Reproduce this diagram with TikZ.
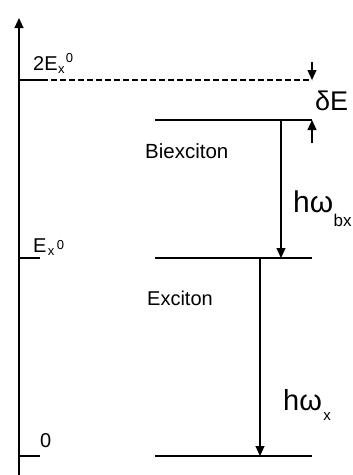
\documentclass[tikz,border=0pt]{standalone}
\usepackage{fontspec}
\setmainfont{Liberation Sans}
\usetikzlibrary{arrows.meta}
\begin{document}
\begin{tikzpicture}[x=1pt,y=-1pt,
  lvl/.style={line width=1.1pt},
  arr/.style={line width=1.1pt,-{Triangle[length=10pt,width=9pt]}},
  txt/.style={inner sep=0pt,anchor=base west,font=\fontsize{#1}{#1}\selectfont},
  txt/.default=20]
\useasboundingbox (0,0) rectangle (353,475);
% axis
\coordinate (ax0) at (19,475);
\coordinate (ax1) at (19,18);
\draw[arr] (ax0) -- (ax1);
% 2Ex0 dashed level
\coordinate (d0) at (19,80);
\coordinate (d1) at (42,80);
\coordinate (d2) at (312,80);
\draw[lvl] (d0) -- (d1);
\draw[lvl,dash pattern=on 6pt off 3pt] (d1) -- (d2);
% biexciton level
\coordinate (b0) at (155,120);
\coordinate (b1) at (312,120);
\draw[lvl] (b0) -- (b1);
% exciton level and tick
\coordinate (e0) at (155,258);
\coordinate (e1) at (312,258);
\draw[lvl] (e0) -- (e1);
\coordinate (et0) at (19,258);
\coordinate (et1) at (40,258);
\draw[lvl] (et0) -- (et1);
% ground level and tick
\coordinate (g0) at (155,456);
\coordinate (g1) at (312,456);
\draw[lvl] (g0) -- (g1);
\coordinate (gt0) at (19,456);
\coordinate (gt1) at (40,456);
\draw[lvl] (gt0) -- (gt1);
% delta E arrows
\coordinate (da0) at (312,62);
\coordinate (ua0) at (312,143);
\draw[arr] (da0) -- (d2);
\draw[arr] (ua0) -- (b1);
% transitions
\coordinate (tb0) at (281,120);
\coordinate (tb1) at (281,258);
\draw[arr] (tb0) -- (tb1);
\coordinate (tx0) at (260,258);
\coordinate (tx1) at (260,456);
\draw[arr] (tx0) -- (tx1);
% labels
\node[txt] (l2E) at (33,70) {2E};
\node[txt=13] (l2Ex) at (l2E.base east) [yshift=-3pt] {x};
\node[txt=13] (l2E0) at (l2Ex.base east) [yshift=11pt,xshift=1pt] {0};
\node[txt] (lE) at (33,252) {E};
\node[txt=13] (lEx) at (lE.base east) [yshift=-3pt,xshift=1pt] {x};
\node[txt=13] (lE0) at (lEx.base east) [yshift=6pt,xshift=2pt] {0};
\node[txt] (l0) at (40,447) {0};
\node[txt=20.5] (lbx) at (145,158) {Biexciton};
\node[txt] (lx) at (147,305) {Exciton};
\node[txt=27] (ldE) at (315,110) {δE};
\node[txt=30] (lhb) at (293,212) {hω};
\node[txt=17] (lhbs) at (lhb.base east) [yshift=-14pt] {bx};
\node[txt=29] (lhx) at (283,410) {hω};
\node[txt=15] (lhxs) at (lhx.base east) [yshift=-10pt,xshift=1pt] {x};
\end{tikzpicture}
\end{document}
